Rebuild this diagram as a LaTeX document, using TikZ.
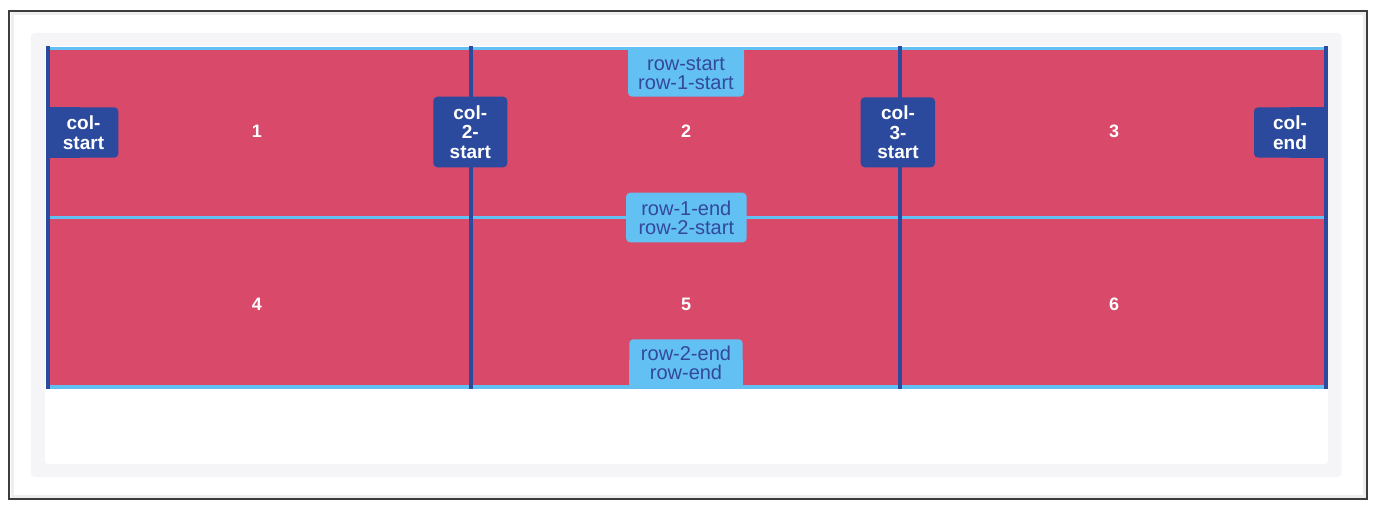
\documentclass[tikz,border=0pt]{standalone}
\usepackage{fontspec}
\setmainfont{Liberation Sans}
\definecolor{pinkc}{HTML}{D9496A}
\definecolor{dblue}{HTML}{2B4A9E}
\definecolor{lblue}{HTML}{62C0F2}
\definecolor{labtext}{HTML}{34489C}
\definecolor{framec}{HTML}{3C3C3C}
\definecolor{stripc}{HTML}{EEEEEE}
\definecolor{grayc}{HTML}{F5F5F8}
\begin{document}
\begin{tikzpicture}[x=1pt,y=-1pt,
  rowlab/.style={text=labtext, font=\fontsize{20}{19.5}\selectfont, align=center, inner sep=0},
  collab/.style={text=white, font=\bfseries\fontsize{19}{19.5}\selectfont, align=center, inner sep=0},
  cellnum/.style={text=white, font=\bfseries\fontsize{18}{18}\selectfont, inner sep=0},
  hline/.style={draw=lblue, line width=3.5},
  vline/.style={draw=dblue, line width=4},
  rowbg/.style={fill=lblue},
  colbg/.style={fill=dblue}]
\useasboundingbox (0,0) rectangle (1376,510);
\fill[white] (0,0) rectangle (1376,510);
\draw[stripc, line width=3] (12,14) rectangle (1364,496);
\draw[framec, line width=2] (9,11) rectangle (1367,499);
% panels
\fill[grayc, rounded corners=4] (31,33) rectangle (1341.5,477);
\fill[white, rounded corners=3] (45,46) rectangle (1328,464);
% grid area
\fill[pinkc] (47,48) rectangle (1325,387.5);
\draw[hline] (46,48.5) -- (1327,48.5);
\draw[hline] (46,217.5) -- (1327,217.5);
\draw[hline, line width=4] (46,387) -- (1327,387);
\draw[vline] (47.5,46.5) -- (47.5,389);
\draw[vline] (471.3,46.5) -- (471.3,389);
\draw[vline] (899.5,46.5) -- (899.5,389);
\draw[vline] (1325.5,46.5) -- (1325.5,389);
% cell numbers
\node[cellnum] (n1) at (257,131) {1};
\node[cellnum] (n2) at (686,131) {2};
\node[cellnum] (n3) at (1114,131) {3};
\node[cellnum] (n4) at (257,304) {4};
\node[cellnum] (n5) at (686,304) {5};
\node[cellnum] (n6) at (1114,304) {6};
% column labels
\fill[colbg, rounded corners=4] (48,107.3) rectangle (118.3,157.7);
\fill[colbg] (48,107.3) rectangle (80,157.7);
\node[collab] (cs) at (83.5,132.5) {col-\\start};
\fill[colbg, rounded corners=4] (1254,107.3) rectangle (1326,157.7);
\fill[colbg] (1290,107.3) rectangle (1326,157.7);
\node[collab] (ce) at (1290,132.5) {col-\\end};
\fill[colbg, rounded corners=4] (433.3,96.7) rectangle (507.3,167.3);
\node[collab] (c2) at (470.3,132) {col-\\2-\\start};
\fill[colbg, rounded corners=4] (860.7,97.3) rectangle (935,167.3);
\node[collab] (c3) at (898,132.3) {col-\\3-\\start};
% row labels
\fill[rowbg, rounded corners=4] (628,49) rectangle (744,96.7);
\fill[rowbg] (628,49) rectangle (744,70);
\node[rowlab] (rs) at (686,73.5) {row-start\\row-1-start};
\fill[rowbg, rounded corners=4] (626,192.7) rectangle (746.7,242.3);
\node[rowlab] (r1) at (686.3,218) {row-1-end\\row-2-start};
\fill[rowbg, rounded corners=4] (629.3,339.3) rectangle (742.7,386);
\fill[rowbg] (629.3,360) rectangle (742.7,386);
\node[rowlab] (r2) at (686,363) {row-2-end\\row-end};
\end{tikzpicture}
\end{document}
